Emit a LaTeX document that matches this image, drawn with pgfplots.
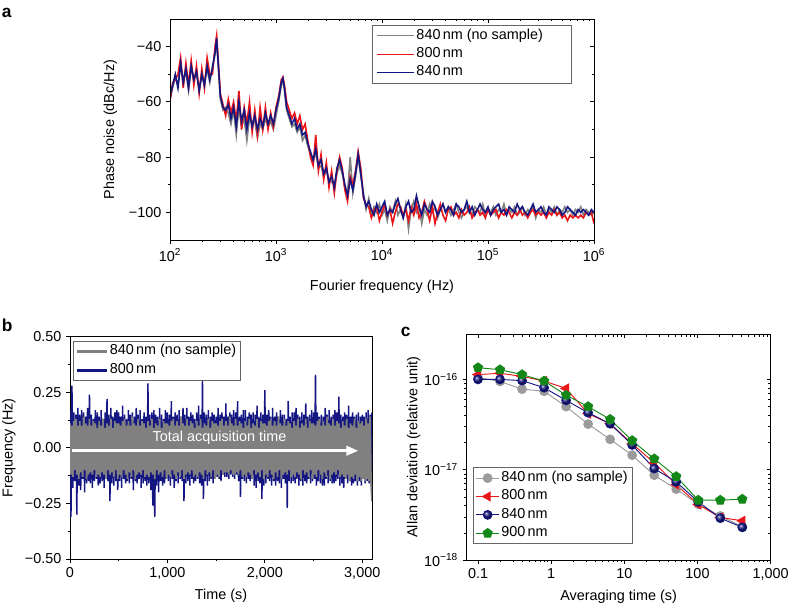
\documentclass[border=0pt]{standalone}
\usepackage{fontspec}
\setmainfont{Liberation Sans}
\usepackage{pgfplots}
\pgfplotsset{compat=1.18}
\usepackage{pgfplotstable}
\usetikzlibrary{arrows.meta}
\definecolor{pgray}{RGB}{128,128,128}
\definecolor{pred}{RGB}{235,20,25}
\definecolor{pnavy}{RGB}{20,22,130}
\definecolor{pgreen}{RGB}{20,135,25}
\definecolor{mgray}{RGB}{155,155,155}

\pgfplotstableread{
l g r b
2.000 -59 -60 -58
2.025 -55 -53 -54
2.050 -51 -52 -50
2.075 -54 -50 -55
2.100 -47 -44 -46
2.125 -52 -55 -53
2.150 -49 -46 -48
2.175 -56 -54 -55
2.200 -48 -45 -47
2.225 -51 -54 -52
2.250 -50 -47 -49
2.275 -55 -57 -56
2.300 -51 -48 -50
2.325 -53 -55 -54
2.350 -48 -44 -47
2.375 -53 -50 -52
2.400 -47 -50 -48
2.425 -43 -40 -42
2.440 -38 -36 -37
2.455 -47 -45 -46
2.475 -59 -57 -58
2.500 -63 -61 -62
2.525 -62 -65 -63
2.550 -64 -59 -61
2.575 -68 -64 -66
2.600 -63 -60 -62
2.625 -72 -67 -69
2.650 -62 -56 -60
2.675 -69 -70 -67
2.700 -66 -62 -63
2.725 -74 -68 -70
2.750 -66 -60 -64
2.775 -67 -71 -69
2.800 -67 -63 -65
2.825 -73 -72 -70
2.850 -68 -62 -66
2.875 -70 -70 -69
2.900 -66 -62 -64
2.925 -69 -70 -68
2.950 -67 -64 -65
2.975 -70 -69 -68
3.000 -65 -62 -63
3.025 -60 -58 -59
3.050 -54 -52 -53
3.065 -52 -51 -51.5
3.080 -56 -54 -55
3.100 -63 -60 -62
3.125 -66 -63 -65
3.150 -69 -66 -68
3.175 -68 -64 -66
3.200 -71 -68 -70
3.225 -69 -65 -68
3.250 -74 -70 -72
3.275 -72 -68 -71
3.300 -76 -74 -75
3.325 -79 -80 -78
3.350 -82 -83 -81
3.375 -78 -72 -77
3.400 -84 -85 -83
3.425 -83 -79 -81
3.450 -87 -88 -86
3.475 -85 -82 -84
3.500 -88 -91 -89
3.525 -89 -85 -87
3.550 -90 -93 -91
3.575 -86 -85 -84
3.600 -83 -80 -81
3.625 -86 -84 -85
3.650 -91 -92 -90
3.675 -93 -96 -94
3.700 -80 -87 -88
3.725 -93 -90 -92
3.750 -87 -85 -86
3.775 -80 -78 -79
3.800 -87 -84 -86
3.825 -93 -95 -94
3.850 -99 -97 -98
3.875 -95 -98 -96
3.900 -101 -102 -99
3.925 -98 -99 -101
3.950 -100 -98 -97
3.975 -97 -103 -100
4.000 -101 -100 -98
4.025 -99 -97 -96
4.050 -103 -101 -101
4.075 -98 -99 -99
4.100 -100 -104 -100
4.125 -96 -100 -97
4.150 -101 -97 -95
4.175 -99 -98 -99
4.200 -102 -101 -102
4.225 -97 -99 -98
4.250 -106 -103 -96
4.275 -99 -98 -100
4.300 -96 -101 -99
4.325 -100 -97 -94
4.350 -98 -102 -98
4.375 -104 -100 -101
4.400 -99 -96 -97
4.425 -101 -99 -99
4.450 -97 -103 -100
4.475 -100 -98 -96
4.500 -98 -104 -98
4.525 -102 -100 -101
4.550 -99 -97 -99
4.575 -97 -101 -97
4.600 -100 -103 -100
4.625 -98 -99 -98
4.650 -101 -98 -99
4.675 -99 -101 -101
4.700 -97 -100 -97
4.725 -100 -102 -98
4.750 -102 -99 -100
4.775 -99 -101 -99
4.800 -98 -100 -96
4.825 -100 -98 -100
4.850 -101 -102 -98
4.875 -98 -100 -101
4.900 -99 -99 -99
4.925 -100 -101 -97
4.950 -97 -100 -99
4.975 -101 -102 -100
5.000 -99 -99 -98
5.025 -100 -101 -101
5.050 -98 -100 -99
5.075 -101 -99 -98
5.100 -99 -102 -97
5.125 -100 -100 -100
5.150 -97 -101 -99
5.175 -101 -99 -101
5.200 -99 -100 -98
5.225 -100 -102 -99
5.250 -98 -100 -100
5.275 -101 -101 -97
5.300 -100 -99 -99
5.325 -98 -101 -98
5.350 -101 -100 -100
5.375 -99 -102 -101
5.400 -100 -100 -99
5.425 -98 -99 -97
5.450 -102 -101 -100
5.475 -99 -100 -99
5.500 -100 -101 -98
5.525 -98 -100 -100
5.550 -101 -102 -101
5.575 -99 -100 -98
5.600 -100 -101 -99
5.625 -98 -99 -100
5.650 -101 -101 -98
5.675 -99 -100 -99
5.700 -100 -102 -101
5.725 -98 -101 -100
5.750 -100 -103 -98
5.775 -99 -101 -99
5.800 -101 -102 -100
5.825 -99 -101 -101
5.850 -100 -102 -99
5.875 -98 -101 -100
5.900 -101 -102 -99
5.925 -99 -100 -100
5.950 -100 -101 -101
5.975 -101 -100 -99
6.000 -100 -104 -100
}\tabA

\pgfplotstableread{
t g r b v
0.1   1.05e-16 1.13e-16 1.00e-16 1.35e-16
0.2   0.95e-16 1.17e-16 1.00e-16 1.28e-16
0.4   7.8e-17  1.08e-16 0.97e-16 1.13e-16
0.8   7.4e-17  0.96e-16 8.1e-17  0.96e-16
1.6   5.0e-17  7.95e-17 5.86e-17 6.7e-17
3.2   3.2e-17  4.17e-17 4.28e-17 5.0e-17
6.4   2.17e-17 3.23e-17 3.23e-17 3.61e-17
12.8  1.45e-17 1.94e-17 1.88e-17 2.1e-17
25.6  8.7e-18  1.19e-17 1.03e-17 1.32e-17
51.2  6.1e-18  6.85e-18 7.34e-18 8.4e-18
102.4 4.15e-18 4.12e-18 4.41e-18 4.6e-18
204.8 3.07e-18 2.96e-18 2.91e-18 4.6e-18
409.6 2.34e-18 2.72e-18 2.30e-18 4.72e-18
}\tabC

\pgfplotsset{
  every axis/.append style={
    font=\fontsize{10.8}{13}\selectfont,
    /pgf/number format/assume math mode=true,
    scale only axis,
    anchor=south west,
    major tick length=3pt,
    minor tick length=1.8pt,
    axis line style={line width=0.7pt},
    every tick/.style={line width=0.6pt, black},
    every minor tick/.style={line width=0.5pt, black},
  },
}

\begin{document}
\begin{tikzpicture}
\useasboundingbox (0,0) rectangle (591pt,455.25pt);

% panel letters
\node[anchor=north west, inner sep=0pt, font=\fontsize{13}{13}\selectfont\bfseries] at (1.2pt,449.5pt) {a};
\node[anchor=north west, inner sep=0pt, font=\fontsize{13}{13}\selectfont\bfseries] at (1.2pt,216pt) {b};
\node[anchor=north west, inner sep=0pt, font=\fontsize{13}{13}\selectfont\bfseries] at (300.5pt,210pt) {c};

% ===== panel a =====
\begin{axis}[
  at={(127.5pt,275.25pt)}, width=318pt, height=165.75pt,
  xmin=2, xmax=6, ymin=-110, ymax=-30,
  xtick={2,3,4,5,6}, xticklabels={},
  minor xtick={2.301,2.477,2.602,2.699,2.778,2.845,2.903,2.954,
               3.301,3.477,3.602,3.699,3.778,3.845,3.903,3.954,
               4.301,4.477,4.602,4.699,4.778,4.845,4.903,4.954,
               5.301,5.477,5.602,5.699,5.778,5.845,5.903,5.954},
  ytick={-100,-80,-60,-40}, minor ytick={-90,-70,-50}, yticklabels={},
  xtick pos=right, ytick pos=right, tick align=inside,
  legend cell align=left,
  legend image code/.code={\draw[#1, line width=0.9pt] (0pt,0pt) -- (28pt,0pt);},
  legend style={at={(0.476,0.973)}, anchor=north west, draw=black!60, line width=0.6pt,
    inner xsep=3pt, inner ysep=1pt, row sep=0pt,
    nodes={text height=8pt, text depth=3.2pt, inner sep=1.3pt}},
]
\addplot[pgray, line width=1.2pt] table[x=l, y=g] {\tabA};
\addlegendentry{\makebox[112pt][l]{840\,nm (no sample)}}
\addplot[pred, line width=1.2pt] table[x=l, y=r] {\tabA};
\addlegendentry{800\,nm}
\addplot[pnavy, line width=1.2pt] table[x=l, y=b] {\tabA};
\addlegendentry{840\,nm}
\end{axis}
\begin{axis}[
  at={(127.5pt,275.25pt)}, width=318pt, height=165.75pt,
  xmin=2, xmax=6, ymin=-110, ymax=-30,
  xtick={2,3,4,5,6},
  xticklabels={10\textsuperscript{2},10\textsuperscript{3},10\textsuperscript{4},10\textsuperscript{5},10\textsuperscript{6}},
  minor xtick={2.301,2.477,2.602,2.699,2.778,2.845,2.903,2.954,
               3.301,3.477,3.602,3.699,3.778,3.845,3.903,3.954,
               4.301,4.477,4.602,4.699,4.778,4.845,4.903,4.954,
               5.301,5.477,5.602,5.699,5.778,5.845,5.903,5.954},
  ytick={-100,-80,-60,-40}, minor ytick={-90,-70,-50},
  yticklabels={−100,−80,−60,−40},
  xtick pos=left, ytick pos=left, tick align=outside,
  xlabel={Fourier frequency (Hz)}, ylabel={Phase noise (dBc/Hz)},
  xlabel shift=7pt, ylabel shift=2pt,
]
\end{axis}

% ===== panel b =====
\begin{axis}[
  at={(52.5pt,36pt)}, width=226.5pt, height=166.7pt,
  xmin=0, xmax=3100, ymin=-0.5, ymax=0.5,
  xtick={0,1000,2000,3000}, xticklabels={0,{1,000},{2,000},{3,000}},
  minor xtick={500,1500,2500},
  ytick={-0.5,-0.25,0,0.25,0.5}, yticklabels={−0.50,−0.25,0.00,0.25,0.50},
  minor ytick={-0.375,-0.125,0.125,0.375},
  xtick pos=left, ytick pos=left, tick align=outside,
  xlabel={Time (s)}, ylabel={Frequency (Hz)},
  legend cell align=left,
  legend image code/.code={\draw[#1, line width=2.2pt] (0pt,0pt) -- (22pt,0pt);},
  legend style={at={(0.009,0.982)}, anchor=north west, draw=black!60, line width=0.6pt,
    inner xsep=2pt, inner ysep=1pt, row sep=0pt,
    nodes={text height=8pt, text depth=3.2pt, inner sep=1.3pt}},
]
\addlegendimage{pgray}
\addlegendentry{840\,nm (no sample)}
\addlegendimage{pnavy}
\addlegendentry{800\,nm}
\addplot[pnavy, line width=1.1pt, forget plot] coordinates {
(0,.17)(10,-.31)(20,.28)(30,-.18)(40,.16)(50,-.15)(60,.15)(70,-.30)(80,.18)(90,-.17)
(100,.15)(110,-.19)(120,.17)(130,-.14)(140,.16)(150,-.20)(160,.14)(170,-.16)(180,.18)(190,-.15)
(200,.24)(210,-.16)(220,.15)(230,-.18)(240,.13)(250,-.15)(260,.17)(270,-.14)(280,.16)(290,-.17)
(300,.14)(310,-.16)(320,.17)(330,-.15)(340,.13)(350,-.18)(360,.16)(370,-.14)(380,.22)(390,-.15)
(400,.15)(410,-.24)(420,.18)(430,-.16)(440,.14)(450,-.17)(460,.16)(470,-.15)(480,.17)(490,-.19)
(500,.16)(510,-.15)(520,.14)(530,-.18)(540,.19)(550,-.14)(560,.15)(570,-.16)(580,.13)(590,-.15)
(600,.17)(610,-.16)(620,.15)(630,-.14)(640,.16)(650,-.19)(660,.14)(670,-.15)(680,.18)(690,-.16)
(700,.15)(710,-.14)(720,.17)(730,-.18)(740,.13)(750,-.16)(760,.16)(770,-.15)(780,.14)(790,-.17)
(800,.29)(810,-.16)(820,.15)(830,-.19)(840,.16)(850,-.26)(860,.17)(870,-.31)(880,.15)(890,-.17)
(900,.14)(910,-.20)(920,.18)(930,-.15)(940,.15)(950,-.17)(960,.13)(970,-.16)(980,.17)(990,-.14)
(1000,.16)(1010,-.15)(1020,.15)(1030,-.17)(1040,.21)(1050,-.14)(1060,.14)(1070,-.18)(1080,.16)(1090,-.15)
(1100,.15)(1110,-.16)(1120,.17)(1130,-.14)(1140,.14)(1150,-.15)(1160,.18)(1170,-.24)(1180,.15)(1190,-.16)
(1200,.18)(1210,-.15)(1220,.14)(1230,-.17)(1240,.16)(1250,-.14)(1260,.15)(1270,-.16)(1280,.13)(1290,-.15)
(1300,.16)(1310,-.14)(1320,.19)(1330,-.16)(1340,.15)(1350,-.17)(1360,.30)(1370,-.23)(1380,.16)(1390,-.15)
(1400,.15)(1410,-.17)(1420,.17)(1430,-.15)(1440,.14)(1450,-.14)(1460,.16)(1470,-.16)(1480,.15)(1490,-.13)
(1500,.14)(1510,-.13)(1520,.18)(1530,-.14)(1540,.15)(1550,-.15)(1560,.16)(1570,-.12)(1580,.14)(1590,-.13)
(1600,.20)(1610,-.13)(1620,.14)(1630,-.14)(1640,.16)(1650,-.12)(1660,.15)(1670,-.13)(1680,.17)(1690,-.14)
(1700,.16)(1710,-.12)(1720,.21)(1730,-.15)(1740,.14)(1750,-.22)(1760,.15)(1770,-.14)(1780,.17)(1790,-.15)
(1800,.17)(1810,-.16)(1820,.14)(1830,-.14)(1840,.16)(1850,-.15)(1860,.15)(1870,-.14)(1880,.16)(1890,-.17)
(1900,.15)(1910,-.18)(1920,.19)(1930,-.15)(1940,.14)(1950,-.16)(1960,.16)(1970,-.23)(1980,.15)(1990,-.17)
(2000,.26)(2010,-.16)(2020,.15)(2030,-.14)(2040,.17)(2050,-.15)(2060,.14)(2070,-.17)(2080,.18)(2090,-.15)
(2100,.14)(2110,-.17)(2120,.16)(2130,-.15)(2140,.14)(2150,-.16)(2160,.17)(2170,-.18)(2180,.15)(2190,-.14)
(2200,.15)(2210,-.16)(2220,.13)(2230,-.27)(2240,.21)(2250,-.15)(2260,.14)(2270,-.16)(2280,.16)(2290,-.15)
(2300,.16)(2310,-.16)(2320,.18)(2330,-.14)(2340,.15)(2350,-.17)(2360,.14)(2370,-.15)(2380,.16)(2390,-.17)
(2400,.15)(2410,-.15)(2420,.20)(2430,-.16)(2440,.14)(2450,-.14)(2460,.15)(2470,-.16)(2480,.17)(2490,-.15)
(2500,.16)(2510,-.14)(2520,.33)(2530,-.17)(2540,.16)(2550,-.15)(2560,.14)(2570,-.16)(2580,.15)(2590,-.17)
(2600,.14)(2610,-.17)(2620,.18)(2630,-.14)(2640,.15)(2650,-.16)(2660,.17)(2670,-.15)(2680,.14)(2690,-.16)
(2700,.15)(2710,-.16)(2720,.17)(2730,-.15)(2740,.16)(2750,-.14)(2760,.23)(2770,-.17)(2780,.15)(2790,-.16)
(2800,.14)(2810,-.18)(2820,.16)(2830,-.14)(2840,.15)(2850,-.16)(2860,.19)(2870,-.15)(2880,.14)(2890,-.17)
(2900,.16)(2910,-.16)(2920,.14)(2930,-.15)(2940,.15)(2950,-.17)(2960,.16)(2970,-.15)(2980,.14)(2990,-.17)
(3000,.15)(3010,-.14)(3020,.14)(3030,-.16)(3040,.16)(3050,-.15)(3060,.17)(3070,-.16)(3080,.15)(3090,-.14)(3100,.16)
};
\addplot[pgray, line width=1.35pt, forget plot] coordinates {
(0,.11)(10,-.12)(20,.10)(30,-.13)(40,.12)(50,-.10)(60,.13)(70,-.12)(80,.10)(90,-.14)
(100,.12)(110,-.11)(120,.10)(130,-.13)(140,.14)(150,-.10)(160,.11)(170,-.14)(180,.10)(190,-.12)
(200,.13)(210,-.11)(220,.10)(230,-.12)(240,.12)(250,-.10)(260,.11)(270,-.13)(280,.09)(290,-.12)
(300,.12)(310,-.13)(320,.10)(330,-.11)(340,.13)(350,-.12)(360,.09)(370,-.14)(380,.11)(390,-.10)
(400,.10)(410,-.12)(420,.13)(430,-.11)(440,.09)(450,-.13)(460,.12)(470,-.10)(480,.11)(490,-.14)
(500,.11)(510,-.12)(520,.10)(530,-.13)(540,.12)(550,-.10)(560,.13)(570,-.12)(580,.10)(590,-.14)
(600,.12)(610,-.11)(620,.10)(630,-.13)(640,.14)(650,-.10)(660,.11)(670,-.14)(680,.10)(690,-.12)
(700,.13)(710,-.11)(720,.10)(730,-.12)(740,.12)(750,-.10)(760,.11)(770,-.13)(780,.09)(790,-.12)
(800,.12)(810,-.13)(820,.10)(830,-.11)(840,.13)(850,-.12)(860,.09)(870,-.14)(880,.11)(890,-.10)
(900,.10)(910,-.12)(920,.13)(930,-.11)(940,.09)(950,-.13)(960,.12)(970,-.10)(980,.11)(990,-.14)
(1000,.11)(1010,-.12)(1020,.10)(1030,-.13)(1040,.12)(1050,-.10)(1060,.13)(1070,-.12)(1080,.10)(1090,-.14)
(1100,.12)(1110,-.11)(1120,.10)(1130,-.13)(1140,.14)(1150,-.10)(1160,.11)(1170,-.14)(1180,.10)(1190,-.12)
(1200,.13)(1210,-.11)(1220,.10)(1230,-.12)(1240,.12)(1250,-.10)(1260,.11)(1270,-.13)(1280,.09)(1290,-.12)
(1300,.12)(1310,-.13)(1320,.10)(1330,-.11)(1340,.13)(1350,-.12)(1360,.09)(1370,-.14)(1380,.11)(1390,-.10)
(1400,.10)(1410,-.12)(1420,.13)(1430,-.11)(1440,.09)(1450,-.13)(1460,.12)(1470,-.10)(1480,.11)(1490,-.14)
(1500,.11)(1510,-.12)(1520,.10)(1530,-.13)(1540,.12)(1550,-.10)(1560,.13)(1570,-.12)(1580,.10)(1590,-.11)
(1600,.12)(1610,-.11)(1620,.10)(1630,-.12)(1640,.14)(1650,-.10)(1660,.11)(1670,-.12)(1680,.10)(1690,-.12)
(1700,.13)(1710,-.11)(1720,.10)(1730,-.12)(1740,.12)(1750,-.10)(1760,.11)(1770,-.13)(1780,.09)(1790,-.12)
(1800,.12)(1810,-.13)(1820,.10)(1830,-.11)(1840,.13)(1850,-.12)(1860,.09)(1870,-.14)(1880,.11)(1890,-.10)
(1900,.10)(1910,-.12)(1920,.13)(1930,-.11)(1940,.09)(1950,-.13)(1960,.12)(1970,-.10)(1980,.11)(1990,-.14)
(2000,.11)(2010,-.12)(2020,.10)(2030,-.13)(2040,.12)(2050,-.10)(2060,.13)(2070,-.12)(2080,.10)(2090,-.14)
(2100,.12)(2110,-.11)(2120,.10)(2130,-.13)(2140,.14)(2150,-.10)(2160,.11)(2170,-.14)(2180,.10)(2190,-.12)
(2200,.13)(2210,-.11)(2220,.10)(2230,-.12)(2240,.12)(2250,-.10)(2260,.11)(2270,-.13)(2280,.09)(2290,-.12)
(2300,.12)(2310,-.13)(2320,.10)(2330,-.11)(2340,.13)(2350,-.12)(2360,.09)(2370,-.14)(2380,.11)(2390,-.10)
(2400,.10)(2410,-.12)(2420,.13)(2430,-.11)(2440,.09)(2450,-.13)(2460,.12)(2470,-.10)(2480,.11)(2490,-.14)
(2500,.11)(2510,-.12)(2520,.10)(2530,-.13)(2540,.12)(2550,-.10)(2560,.13)(2570,-.12)(2580,.10)(2590,-.14)
(2600,.12)(2610,-.11)(2620,.10)(2630,-.13)(2640,.14)(2650,-.10)(2660,.11)(2670,-.14)(2680,.10)(2690,-.12)
(2700,.13)(2710,-.11)(2720,.10)(2730,-.12)(2740,.12)(2750,-.10)(2760,.11)(2770,-.13)(2780,.09)(2790,-.12)
(2800,.12)(2810,-.13)(2820,.10)(2830,-.14)(2840,.13)(2850,-.12)(2860,.09)(2870,-.15)(2880,.11)(2890,-.13)
(2900,.10)(2910,-.14)(2920,.13)(2930,-.12)(2940,.09)(2950,-.15)(2960,.12)(2970,-.13)(2980,.11)(2990,-.15)
(3000,.12)(3010,-.14)(3020,.10)(3030,-.15)(3040,.13)(3050,-.14)(3060,.11)(3070,-.15)(3080,.14)(3090,-.16)(3100,-.24)
};
\draw[white, line width=2pt, -{Triangle[length=9pt,width=7pt]}] (axis cs:17,-0.013) -- (axis cs:2960,-0.013);
\node[white, inner sep=0pt] at (axis cs:1535,0.046) {Total acquisition time};
\end{axis}

% ===== panel c =====
\begin{axis}[
  at={(350pt,35.25pt)}, width=228pt, height=169.3pt,
  xmode=log, ymode=log,
  xmin=0.07, xmax=1000, ymin=1e-18, ymax=3.16e-16,
  xtick={0.1,1,10,100,1000}, xticklabels={},
  ytick={1e-18,1e-17,1e-16}, yticklabels={},
  xtick pos=right, ytick pos=right, tick align=inside,
  legend cell align=left,
  legend style={at={(0.02,0.07)}, anchor=south west, draw=black!60, line width=0.6pt,
    inner xsep=2pt, inner ysep=1pt, row sep=0pt,
    nodes={text height=8pt, text depth=3.2pt, inner sep=1.3pt}},
]
\addplot[mgray, line width=0.7pt, mark=*, mark size=3.3pt, mark options={fill=mgray, draw=mgray}] table[x=t, y=g] {\tabC};
\addlegendentry{840\,nm (no sample)}
\addplot[pred, line width=0.7pt, mark=triangle*, mark size=3.8pt, mark options={fill=pred, draw=pred, rotate=90}] table[x=t, y=r] {\tabC};
\addlegendentry{800\,nm}
\addplot[pnavy, line width=0.7pt, mark=ball, mark size=3.3pt, mark options={ball color=pnavy, draw=pnavy}] table[x=t, y=b] {\tabC};
\addlegendentry{840\,nm}
\addplot[pgreen, line width=0.7pt, mark=pentagon*, mark size=3.6pt, mark options={fill=pgreen, draw=pgreen}] table[x=t, y=v] {\tabC};
\addlegendentry{900\,nm}
\end{axis}
\begin{axis}[
  at={(350pt,35.25pt)}, width=228pt, height=169.3pt,
  xmode=log, ymode=log,
  xmin=0.07, xmax=1000, ymin=1e-18, ymax=3.16e-16,
  xtick={0.1,1,10,100,1000}, xticklabels={0.1,1,10,100,{1,000}},
  ytick={1e-18,1e-17,1e-16},
  yticklabels={10\textsuperscript{−18},10\textsuperscript{−17},10\textsuperscript{−16}},
  xtick pos=left, ytick pos=left, tick align=outside,
  xlabel={Averaging time (s)}, ylabel={Allan deviation (relative unit)},
  ylabel shift=-4pt,
]
\end{axis}
\end{tikzpicture}
\end{document}
